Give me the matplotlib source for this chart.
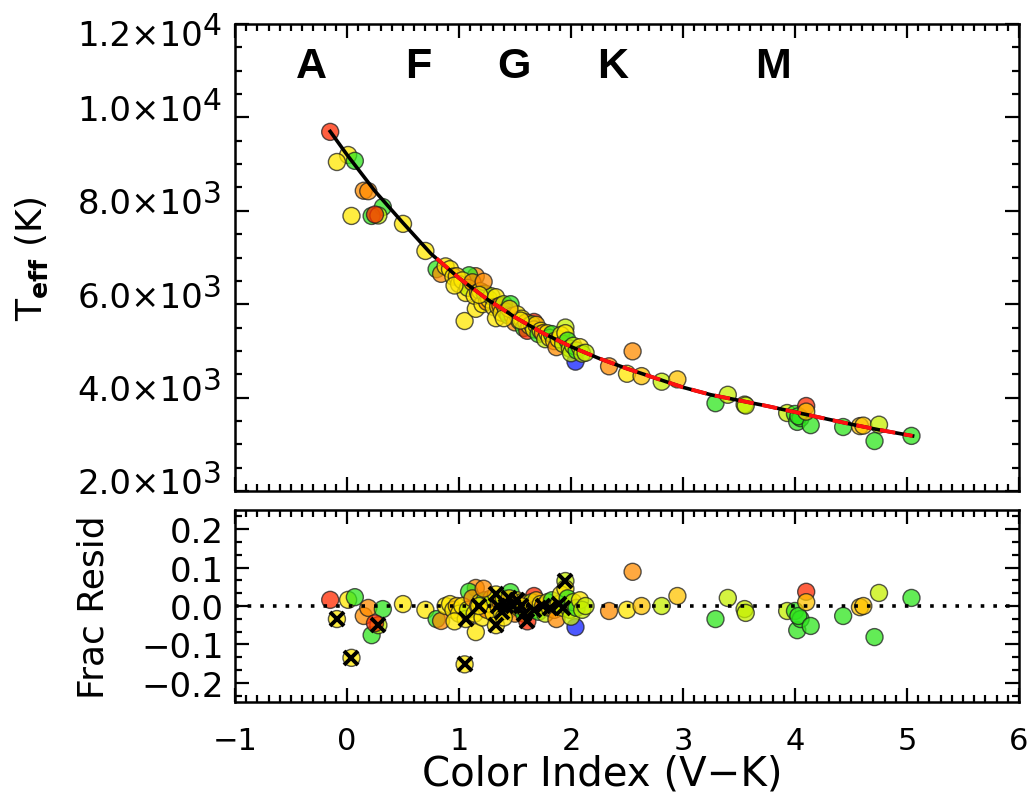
import matplotlib
matplotlib.use("Agg")
import matplotlib.pyplot as plt
from matplotlib.ticker import MultipleLocator, NullFormatter
import matplotlib.transforms as mtransforms

# ---------------- data ----------------
# colour codes
COLORS = {"R": "#ff2a00", "O": "#ff8c00", "A": "#ffc400", "Y": "#ffe800",
          "L": "#c6f000", "G": "#2fe61e", "B": "#1020ff"}

# star colour index (V-K)
star_vk = [-0.15, 0.01, 0.07, -0.09, 0.15, 0.19, 0.04, 0.32, 0.22, 0.28, 0.25,
           0.50, 0.70, 0.80, 0.84, 1.05, 1.15, 1.15, 1.09, 1.67, 1.95, 2.04,
           2.55, 2.34, 2.50, 2.63, 2.81, 2.95, 3.29, 3.40, 3.55, 3.56, 3.93,
           4.00, 4.02, 4.05, 4.03, 4.14, 4.10, 4.10, 4.43, 4.58, 4.61, 4.75,
           4.71, 5.04,
           0.88, 0.92, 0.95, 0.98, 1.00, 1.03, 1.06, 1.08, 1.12, 1.14, 1.17,
           1.19, 1.21, 1.23, 1.25, 1.27, 1.29, 1.31, 1.33, 1.33, 1.35, 1.37,
           1.38, 1.40, 1.42, 1.44, 1.46, 1.48, 1.50, 1.52, 1.54, 1.56, 1.58,
           1.60, 1.61, 1.63, 1.65, 1.67, 1.69, 1.71, 1.73, 1.75, 1.77, 1.79,
           1.81, 1.83, 1.85, 1.87, 1.89, 1.91, 1.93, 1.95, 1.97, 1.99, 2.00,
           2.02, 2.05, 2.08, 2.10, 2.13, 1.22, 1.18, 1.55, 1.45, 1.40, 0.96]

# effective temperature (K)
star_teff = [9690, 9195, 9070, 9045, 8430, 8420, 7890, 8080, 7890, 7900, 7920,
             7720, 7140, 6750, 6650, 5640, 5900, 6600, 6620, 5620, 5500, 4770,
             4990, 4670, 4510, 4460, 4340, 4390, 3880, 4060, 3850, 3830, 3670,
             3650, 3480, 3560, 3600, 3410, 3820, 3700, 3370, 3390, 3400, 3420,
             3070, 3180,
             6810, 6750, 6590, 6600, 6430, 6510, 6240, 6350, 6470, 6180, 6250,
             6280, 6000, 6230, 6050, 6100, 6170, 5940, 5700, 6150, 5950, 5970,
             5820, 6000, 5840, 5760, 6000, 5750, 5610, 5780, 5640, 5690, 5490,
             5610, 5430, 5540, 5570, 5460, 5560, 5360, 5430, 5380, 5250, 5380,
             5280, 5360, 5210, 5080, 5250, 5340, 5150, 5380, 5220, 5050, 4950,
             5110, 5010, 5080, 4940, 4960, 6480, 6200, 5650, 5900, 5700, 6400]

# fractional residual
star_resid = [0.016, 0.016, 0.023, -0.034, -0.026, -0.005, -0.135, -0.008, -0.076, -0.050, -0.045,
              0.005, -0.010, -0.034, -0.039, -0.152, -0.068, 0.047, 0.037, 0.026, 0.065, -0.055,
              0.089, -0.013, -0.010, 0.000, 0.000, 0.026, -0.034, 0.021, -0.008, -0.018, -0.013,
              -0.013, -0.063, -0.034, -0.026, -0.052, 0.037, 0.010, -0.026, -0.003, 0.000, 0.034,
              -0.081, 0.021,
              0.000, 0.005, -0.010, 0.000, -0.020, 0.000, -0.034, -0.010, 0.020, -0.020, 0.000,
              0.010, -0.030, 0.015, -0.010, 0.005, 0.020, -0.020, -0.050, 0.030, 0.000, 0.010,
              -0.015, 0.020, 0.000, -0.010, 0.036, 0.000, -0.020, 0.015, -0.005, 0.010, -0.020,
              0.005, -0.040, 0.000, 0.010, -0.010, 0.015, -0.015, 0.005, 0.000, -0.020, 0.010,
              -0.005, 0.015, -0.010, -0.034, 0.005, 0.030, -0.005, 0.045, 0.020, -0.010, -0.028,
              0.010, -0.005, 0.015, -0.010, 0.000, 0.045, 0.000, 0.000, 0.020, -0.030, -0.040]

star_color = ["R", "Y", "G", "Y", "O", "O", "Y", "G", "G", "L", "R",
              "Y", "Y", "G", "O", "Y", "Y", "O", "G", "R", "L", "B",
              "O", "O", "Y", "A", "L", "A", "G", "L", "L", "L", "L",
              "G", "G", "G", "G", "G", "R", "A", "G", "A", "A", "L",
              "G", "G",
              "Y", "Y", "Y", "A", "Y", "Y", "Y", "L", "O", "Y", "A",
              "Y", "Y", "G", "O", "Y", "L", "Y", "Y", "Y", "A", "O",
              "Y", "L", "Y", "G", "G", "A", "O", "Y", "L", "Y", "G",
              "O", "R", "Y", "L", "Y", "A", "G", "Y", "O", "L", "Y",
              "Y", "G", "A", "O", "Y", "Y", "L", "Y", "G", "L", "L",
              "L", "G", "Y", "L", "L", "O", "Y", "Y", "A", "Y", "Y"]

# flagged stars (crossed in the residual panel)
star_flag = [0, 0, 0, 1, 0, 0, 1, 0, 0, 1, 0,
             0, 0, 0, 0, 1, 0, 0, 0, 0, 1, 0,
             0, 0, 0, 0, 0, 0, 0, 0, 0, 0, 0,
             0, 0, 0, 0, 0, 0, 0, 0, 0, 0, 0,
             0, 0,
             0, 0, 0, 0, 0, 0, 1, 0, 0, 0, 0,
             0, 0, 0, 0, 0, 0, 0, 1, 1, 1, 0,
             1, 0, 1, 0, 0, 1, 0, 1, 0, 0, 1,
             0, 1, 0, 0, 1, 0, 0, 0, 1, 0, 0,
             1, 0, 0, 0, 1, 0, 1, 0, 0, 0, 0,
             0, 0, 0, 0, 0, 0, 1, 1, 1, 0, 0]

# fitted relation
fit_vk = [-0.15, 0.0, 0.25, 0.5, 0.75, 1.0, 1.25, 1.5, 1.75, 2.0, 2.25, 2.5,
          2.75, 3.0, 3.25, 3.5, 3.75, 4.0, 4.25, 4.5, 4.75, 5.05]
fit_teff = [9700, 9200, 8420, 7740, 7080, 6560, 6110, 5720, 5380, 5090, 4840,
            4620, 4420, 4220, 4060, 3940, 3820, 3690, 3560, 3430, 3310, 3180]
# secondary (dashed) relation over its range
fit2_vk = [0.8, 1.0, 1.25, 1.5, 1.75, 2.0, 2.25, 2.5, 2.75, 3.0, 3.25, 3.5,
           3.75, 4.0, 4.25, 4.5, 4.75, 5.05]
fit2_teff = [6980, 6560, 6110, 5720, 5380, 5090, 4840, 4620, 4420, 4220, 4060,
             3940, 3820, 3690, 3560, 3430, 3310, 3180]

spec_labels = ["A", "F", "G", "K", "M"]
spec_vk = [-0.32, 0.64, 1.49, 2.37, 3.80]

teff_ticks = [2000, 4000, 6000, 8000, 10000, 12000]
teff_tick_mant = ["2.0", "4.0", "6.0", "8.0", "1.0", "1.2"]
teff_tick_exp = ["3", "3", "3", "3", "4", "4"]
resid_ticks = [-0.2, -0.1, 0.0, 0.1, 0.2]
resid_tick_labels = ["\u22120.2", "\u22120.1", "0.0", "0.1", "0.2"]
vk_ticks = [-1, 0, 1, 2, 3, 4, 5, 6]
vk_tick_labels = ["\u22121", "0", "1", "2", "3", "4", "5", "6"]

# ---------------- figure ----------------
W, H = 1027, 812
fig = plt.figure(figsize=(W / 100, H / 100), dpi=100)
plt.rcParams["font.family"] = ["DejaVu Sans"]

L, R = 235, 1019
ax1 = fig.add_axes([L / W, 1 - 492 / H, (R - L) / W, (492 - 25) / H])
ax2 = fig.add_axes([L / W, 1 - 703 / H, (R - L) / W, (703 - 511) / H])

FSY = 24.5
FSX = 22

for ax in (ax1, ax2):
    for s in ax.spines.values():
        s.set_linewidth(1.8)
    ax.set_xlim(-1, 6)
    ax.xaxis.set_major_locator(MultipleLocator(1))
    ax.xaxis.set_minor_locator(MultipleLocator(0.1))
    ax.tick_params(which="both", direction="in", top=True, right=True, width=1.6)
    ax.tick_params(which="major", length=10)
    ax.tick_params(which="minor", length=5)

cols = [COLORS[c] for c in star_color]

# top panel
ax1.set_ylim(2000, 12000)
ax1.yaxis.set_major_locator(MultipleLocator(2000))
ax1.yaxis.set_minor_locator(MultipleLocator(500))
ax1.xaxis.set_major_formatter(NullFormatter())
ax1.yaxis.set_major_formatter(NullFormatter())
ax1.scatter(star_vk, star_teff, s=150, c=cols, edgecolors="#202020",
            linewidths=1.0, alpha=0.75, zorder=3)
ax1.plot(fit_vk, fit_teff, color="black", lw=2.6, zorder=4)
ax1.plot(fit2_vk, fit2_teff, color="#ff1010", lw=2.8, dashes=(4, 2.2), zorder=5)

for lab, xv in zip(spec_labels, spec_vk):
    ax1.text(xv, 11100, lab, fontsize=31, fontweight="bold",
             family=["Liberation Sans Narrow", "Liberation Sans"],
             ha="center", va="center", zorder=6)

# y tick labels of the top panel with large exponents
blend = mtransforms.blended_transform_factory(ax1.transAxes, ax1.transData)
for i, (tv, m, e) in enumerate(zip(teff_ticks, teff_tick_mant, teff_tick_exp)):
    dy = 7 if tv < 12000 else -12
    ax1.annotate(m + "\u00d710", xy=(0, tv), xycoords=blend,
                 xytext=(-32, dy), textcoords="offset pixels",
                 ha="right", va="center", fontsize=FSY, annotation_clip=False)
    ax1.annotate(e, xy=(0, tv), xycoords=blend,
                 xytext=(-32, dy + 10), textcoords="offset pixels",
                 ha="left", va="center", fontsize=FSY - 3, annotation_clip=False)

ax1.text((32 - L) / (R - L), 0.5, "T$_{\\mathbf{eff}}$ (K)", transform=ax1.transAxes,
         rotation=90, ha="center", va="center", fontsize=26)

# bottom panel
ax2.set_ylim(-0.25, 0.25)
ax2.set_yticks(resid_ticks)
ax2.set_yticklabels(resid_tick_labels, fontsize=FSY)
ax2.yaxis.set_minor_locator(MultipleLocator(0.1 / 3))
ax2.set_xticks(vk_ticks)
ax2.set_xticklabels(vk_tick_labels, fontsize=FSX)
ax2.tick_params(axis="x", which="major", pad=17)
ax2.tick_params(axis="y", which="major", pad=8)

ax2.scatter(star_vk, star_resid, s=150, c=cols, edgecolors="#202020",
            linewidths=1.0, alpha=0.75, zorder=3)
fx = [v for v, f in zip(star_vk, star_flag) if f]
fr = [v for v, f in zip(star_resid, star_flag) if f]
ax2.plot(fx, fr, linestyle="none", marker="x", markersize=10.5,
         markeredgewidth=2.8, color="black", zorder=4)
ax2.axhline(0.0, color="black", lw=2.6, dashes=(1, 2.5), zorder=5)

fig.text(602 / W, 1 - 775 / H, "Color Index (V\u2212K)", fontsize=29,
         ha="center", va="center")
ax2.text((93 - L) / (R - L), 0.5, "Frac Resid", transform=ax2.transAxes,
         rotation=90, ha="center", va="center", fontsize=26)

fig.savefig("out.png", dpi=100)
